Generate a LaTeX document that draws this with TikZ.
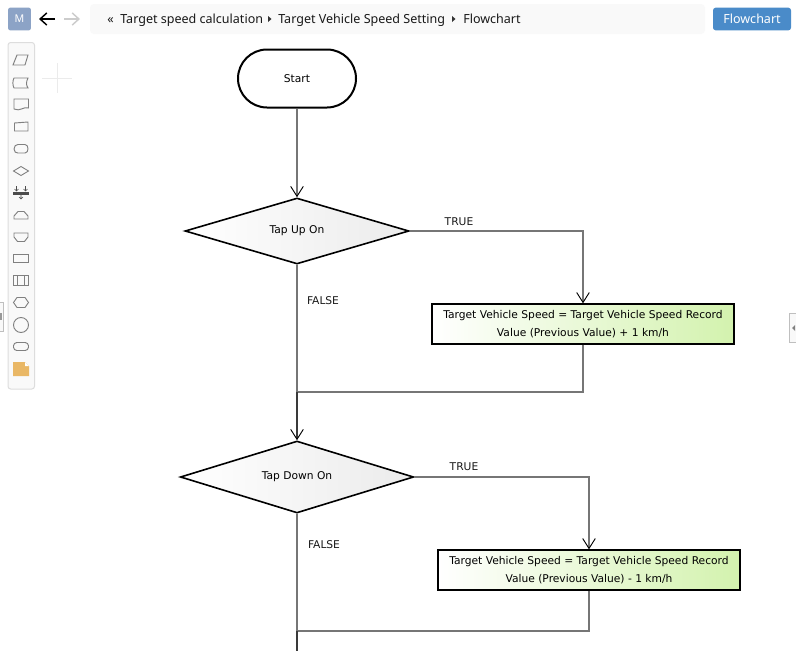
\documentclass[tikz,border=0pt]{standalone}
\usepackage{fontspec}
\setmainfont{Noto Sans}
\newfontfamily\flowfont{DejaVu Sans}
\usetikzlibrary{shapes.geometric,shapes.misc,arrows.meta}
\definecolor{conn}{HTML}{767676}
\definecolor{conndark}{HTML}{3A3A3A}
\definecolor{icon}{HTML}{808080}
\definecolor{barbg}{HTML}{F9F9F9}
\definecolor{barln}{HTML}{DDDDDD}
\definecolor{bluebtn}{HTML}{4A8BC9}
\definecolor{avatar}{HTML}{8CA3C6}
\definecolor{greenend}{HTML}{D3F2AE}
\definecolor{greyend}{HTML}{EBEBEB}
\definecolor{note}{HTML}{E9B765}
\tikzset{
  x=0.75pt,y=-0.75pt,
  flowtext/.style={font=\flowfont\fontsize{8.02pt}{13.5pt}\selectfont},
  lab/.style={flowtext,text=black!90,inner sep=0pt},
  crumb/.style={font=\fontsize{9.4pt}{11pt}\selectfont,text=black!90,inner sep=0pt,anchor=base west},
  term/.style={flowtext,draw=black,line width=1.5pt,rounded rectangle,fill=white,minimum width=88.5pt,minimum height=43.5pt,inner sep=0pt},
  dec/.style={flowtext,diamond,draw=black,line width=1.2pt,left color=white,right color=greyend,inner sep=0pt,aspect=3.3},
  proc/.style={flowtext,draw=black,line width=1.5pt,left color=white,right color=greenend,minimum width=226pt,minimum height=29.5pt,inner sep=0pt,align=center},
  tipopen/.style={-{Straight Barb[length=7.5pt,width=9.5pt,color=black,line width=0.7pt]}},
  flow/.style={draw=conn,line width=1.1pt},
  flowdark/.style={draw=conndark,line width=1.1pt},
  ico/.style={draw=icon,line width=0.7pt},
}
\begin{document}
\begin{tikzpicture}
\useasboundingbox (0,0) rectangle (796,650);
\fill[white] (0,0) rectangle (796,650);
% header
\node[fill=avatar,rounded corners=1.5pt,minimum size=17pt,inner sep=0pt,text=white,font=\fontsize{8pt}{10pt}\selectfont] (avatarbox) at (19.5,19) {M};
\draw[black,line width=1.1pt,-{Straight Barb[length=5pt,width=9pt]}] (55,19) -- (39,19);
\draw[black!20,line width=1.1pt,-{Straight Barb[length=5pt,width=9pt]}] (64,19) -- (80,19);
\fill[barbg,rounded corners=3pt] (90,4) rectangle (705,34);
\node[crumb] (c0) at (107,23) {«};
\node[crumb] (c1) at (120,23) {Target speed calculation};
\fill[black!80] (268,16) -- (271.5,19) -- (268,22) -- cycle;
\node[crumb] (c2) at (278,23) {Target Vehicle Speed Setting};
\fill[black!80] (452,16) -- (455.5,19) -- (452,22) -- cycle;
\node[crumb] (c3) at (463,23) {Flowchart};
\node[fill=bluebtn,rounded corners=2pt,minimum width=58.5pt,minimum height=17pt,inner sep=0pt,text=white,font=\fontsize{9.4pt}{11pt}\selectfont] (btn) at (752,19) {Flowchart};
% toolbar
\draw[barln,fill=barbg,rounded corners=2pt,line width=0.75pt] (8,42.5) rectangle (34.5,389);
\draw[black!8,line width=0.6pt] (42,78.5) -- (72,78.5) (57.5,63) -- (57.5,93);
\draw[ico] (13,65) -- (17,55) -- (28,55) -- (25,65) -- cycle;
\draw[ico] (14,78) -- (28,78) .. controls (26,82) and (26,85) .. (28,88) -- (14,88) .. controls (12.5,85) and (12.5,81) .. (14,78) -- cycle;
\draw[ico] (14,99) -- (28.5,99) -- (28.5,108) .. controls (24,106) and (20,112) .. (14,109) -- cycle;
\draw[ico] (14.5,123) -- (28,122) -- (28,131) -- (14.5,131) -- cycle;
\draw[ico] (14,149) .. controls (14,146) and (16,144.5) .. (18,144.5) -- (25,144.5) .. controls (29,144.5) and (29,153) .. (25,153) -- (18,153) .. controls (16,153) and (14,152) .. (14,149) -- cycle;
\draw[ico] (13.5,171) -- (21,166.5) -- (28.5,171) -- (21,175.5) -- cycle;
\fill[black!70] (13,192) rectangle (29,195);
\draw[black!70,line width=0.5pt] (16.5,186) -- (16.5,191) (14.5,189) -- (16.5,191) -- (18.5,189) (25.5,186) -- (25.5,191) (23.5,189) -- (25.5,191) -- (27.5,189) (21,195) -- (21,199) (19,197) -- (21,199) -- (23,197);
\draw[ico] (14,219) -- (14,216) -- (18,211.5) -- (24,211.5) -- (28,216) -- (28,219) -- cycle;
\draw[ico] (14,233) -- (28,233) -- (28,237) -- (24.5,241.5) -- (17.5,241.5) -- (14,237) -- cycle;
\draw[ico] (13.5,254) rectangle (28.5,262.5);
\draw[ico,line width=0.85pt] (13.5,275.5) rectangle (28.5,285.5) (17.5,275.5) -- (17.5,285.5) (24.5,275.5) -- (24.5,285.5);
\draw[ico] (13.5,302.5) -- (17,297.5) -- (25,297.5) -- (28.5,302.5) -- (25,307.5) -- (17,307.5) -- cycle;
\draw[ico] (21,325) circle[radius=7.5];
\draw[ico,rounded corners=2.5pt] (13.5,342.5) rectangle (28.5,350.5);
\fill[note] (13,362) -- (25,362) -- (29,366) -- (29,376) -- (13,376) -- cycle;
\fill[white] (25,362) -- (25,366) -- (29,366) -- cycle;
% side handles
\draw[black!25,fill=barbg,line width=0.6pt] (-1,302.5) rectangle (3.5,331);
\fill[black!40] (0,313) rectangle (1.5,320);
\draw[black!25,fill=barbg,line width=0.6pt] (797,313) -- (789.5,313) -- (789.5,342.5) -- (797,342.5);
\fill[black!50] (795,325) -- (792,328) -- (795,331) -- cycle;
% flowchart
\node[term] (start) at (297,78.5) {\raisebox{0.4pt}{Start}};
\node[dec,minimum width=168pt,minimum height=49.5pt] (d1) at (297,231) {\raisebox{-2pt}{Tap Up On}};
\node[dec,minimum width=175pt,minimum height=54pt] (d2) at (297,477) {\raisebox{-1pt}{Tap Down On}};
\node[proc] (p1) at (583,324) {Target Vehicle Speed = Target Vehicle Speed Record\\Value (Previous Value) + 1 km/h};
\node[proc] (p2) at (589,570) {Target Vehicle Speed = Target Vehicle Speed Record\\Value (Previous Value) - 1 km/h};
\coordinate (m1) at (297,392);
\coordinate (m2) at (297,631);
\coordinate (endc) at (297,652);
\draw[flow,tipopen] (start.south) -- (d1.north);
\draw[flow,tipopen] (d1.east) -| (p1.north);
\draw[flow] (d1.south) -- (m1);
\draw[flow] (p1.south) |- (m1);
\draw[flowdark,tipopen] (m1) -- (d2.north);
\draw[flow,tipopen] (d2.east) -| (p2.north);
\draw[flow] (d2.south) -- (m2);
\draw[flow] (p2.south) |- (m2);
\draw[flowdark] (m2) -- (endc);
\node[lab] (t1) at (459,221.7) {TRUE};
\node[lab] (f1) at (323,300.7) {FALSE};
\node[lab] (t2) at (464,466.7) {TRUE};
\node[lab] (f2) at (324,544.7) {FALSE};
\end{tikzpicture}
\end{document}
